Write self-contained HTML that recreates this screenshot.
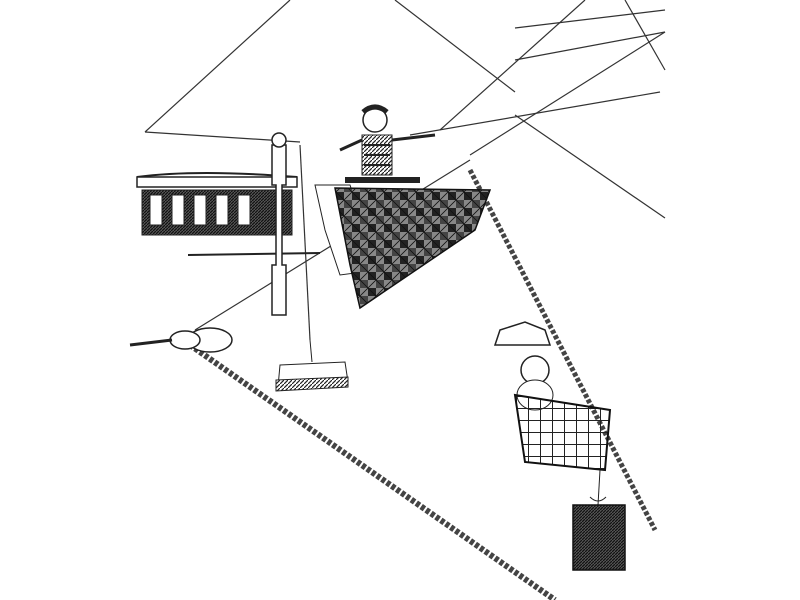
<!DOCTYPE html>
<html><head><meta charset="utf-8"><style>html,body{margin:0;padding:0;background:#fff;}svg{display:block}</style></head>
<body>
<svg width="800" height="600" viewBox="0 0 800 600" xmlns="http://www.w3.org/2000/svg">
<defs>
<pattern id="quilt" width="16" height="16" patternUnits="userSpaceOnUse">
<rect width="16" height="16" fill="#888"/><rect width="8" height="8" fill="#222"/><rect x="8" y="8" width="8" height="8" fill="#444"/><path d="M0 0L16 16M16 0L0 16" stroke="#111" stroke-width="0.8"/>
</pattern>
<pattern id="hatch" width="4" height="4" patternUnits="userSpaceOnUse"><rect width="4" height="4" fill="#fff"/><path d="M0 4L4 0" stroke="#222" stroke-width="1.2"/></pattern>
<pattern id="dark" width="3" height="3" patternUnits="userSpaceOnUse"><rect width="3" height="3" fill="#555"/><path d="M0 3L3 0" stroke="#111" stroke-width="1.2"/></pattern>
<pattern id="grid" width="12" height="12" patternUnits="userSpaceOnUse"><path d="M0 0H12M0 0V12" stroke="#222" stroke-width="2" fill="none"/></pattern>
</defs>
<g stroke="#333" stroke-width="1.2" fill="none">
<line x1="145" y1="132" x2="290" y2="0"/>
<line x1="145" y1="132" x2="300" y2="142"/>
<line x1="395" y1="0" x2="515" y2="92"/>
<line x1="515" y1="28" x2="665" y2="10"/>
<line x1="515" y1="60" x2="665" y2="32"/>
<line x1="440" y1="130" x2="585" y2="0"/>
<line x1="625" y1="0" x2="665" y2="70"/>
<line x1="515" y1="115" x2="665" y2="218"/>
<line x1="410" y1="135" x2="660" y2="92"/>
<line x1="470" y1="155" x2="665" y2="32"/>
<line x1="300" y1="145" x2="310" y2="340"/>
<line x1="195" y1="330" x2="470" y2="160"/>
</g>
<line x1="190" y1="345" x2="555" y2="600" stroke="#444" stroke-width="6" stroke-dasharray="4 2"/>
<line x1="470" y1="170" x2="655" y2="530" stroke="#444" stroke-width="5" stroke-dasharray="4 2"/>
<path d="M137 177q60-8 160 0" fill="#fff" stroke="#222" stroke-width="2"/>
<rect x="137" y="177" width="160" height="10" fill="#fff" stroke="#222" stroke-width="1.5"/>
<rect x="142" y="190" width="150" height="45" fill="url(#dark)" stroke="#222"/>
<g fill="#fff" stroke="#222"><rect x="150" y="195" width="12" height="30"/><rect x="172" y="195" width="12" height="30"/><rect x="194" y="195" width="12" height="30"/><rect x="216" y="195" width="12" height="30"/><rect x="238" y="195" width="12" height="30"/></g>
<line x1="188" y1="255" x2="320" y2="253" stroke="#222" stroke-width="2"/>
<path d="M272 145h14v40h-4v80h4v50h-14v-50h4v-80h-4z" fill="#fff" stroke="#222" stroke-width="1.5"/>
<circle cx="279" cy="140" r="7" fill="#fff" stroke="#222" stroke-width="1.5"/>
<path d="M315 185L350 185L378 270L340 275L325 230Z" fill="#fff" stroke="#222"/>
<path d="M335 188L490 190L475 230L360 308L350 265Z" fill="url(#quilt)" stroke="#111" stroke-width="1.5"/>
<circle cx="375" cy="120" r="12" fill="#fff" stroke="#222" stroke-width="1.5"/>
<path d="M363 112q12-10 24 0" stroke="#222" stroke-width="5" fill="none"/>
<path d="M362 135h30v40h-30z" fill="url(#hatch)" stroke="#222"/>
<path d="M364 145h26M364 155h26M364 165h26" stroke="#222" stroke-width="2"/>
<path d="M362 140L340 150M392 140L435 135" stroke="#222" stroke-width="3"/>
<path d="M345 180L420 180" stroke="#222" stroke-width="6"/>
<ellipse cx="210" cy="340" rx="22" ry="12" fill="#fff" stroke="#222" stroke-width="1.5"/>
<ellipse cx="185" cy="340" rx="15" ry="9" fill="#fff" stroke="#222" stroke-width="1.5"/>
<line x1="130" y1="345" x2="172" y2="340" stroke="#222" stroke-width="3"/>
<path d="M280 365l65-3 3 20-70 5z" fill="#fff" stroke="#222"/>
<path d="M276 380l72-3v10l-72 4z" fill="url(#hatch)" stroke="#222"/>
<line x1="310" y1="340" x2="312" y2="362" stroke="#222"/>
<path d="M495 345l5-15 25-8 20 8 5 15z" fill="#fff" stroke="#222" stroke-width="1.5"/>
<circle cx="535" cy="370" r="14" fill="#fff" stroke="#222" stroke-width="1.5"/>
<ellipse cx="535" cy="395" rx="18" ry="15" fill="#fff" stroke="#222"/>
<path d="M515 395L610 410L605 470L525 462Z" fill="url(#grid)" stroke="#111" stroke-width="2"/>
<line x1="600" y1="470" x2="598" y2="505" stroke="#222"/>
<rect x="573" y="505" width="52" height="65" fill="url(#dark)" stroke="#111" stroke-width="1.5"/>
<path d="M590 497q8 8 16 0" stroke="#222" fill="none"/>
</svg>
</body></html>
